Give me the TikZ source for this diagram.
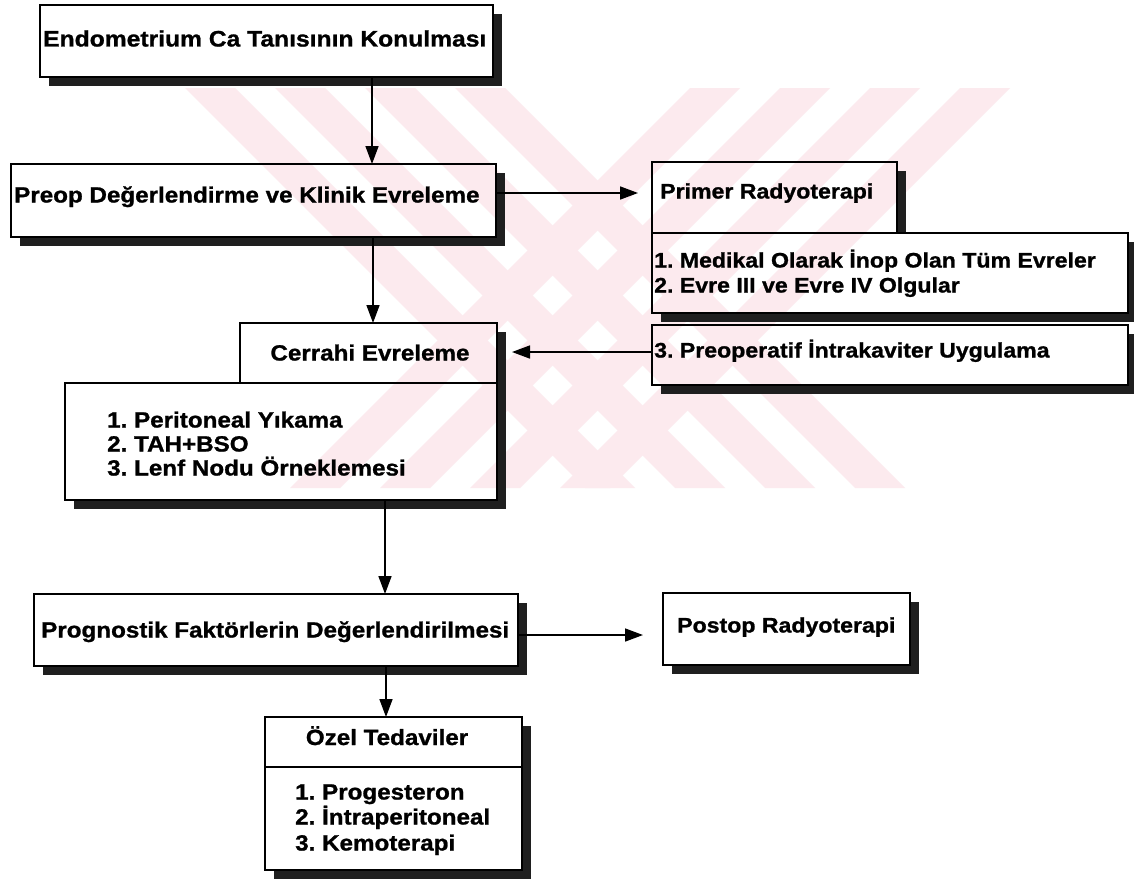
\documentclass[tikz,border=0pt]{standalone}
\usepackage{fontspec}
\setmainfont[FakeStretch=1.1, BoldFeatures={FakeBold=1.1}]{Liberation Sans}
\usetikzlibrary{arrows.meta}
\definecolor{wm}{RGB}{252,234,238}
\newcommand\myft{\fontsize{22}{24.5}\selectfont\bfseries\frenchspacing}
\newcommand\myfts{\fontsize{21}{24.5}\selectfont\bfseries\frenchspacing}
\newcommand\shL[4]{\fill[shd] (#3,{#2+9}) rectangle ({#3+9},{#4+9}); \fill[shd] ({#1+9},#4) rectangle ({#3+9},{#4+9});}
\newcommand\shR[3]{\fill[shd] (#1,{#2+9}) rectangle ({#1+9},#3);}
\newcommand\bxnode[5]{%
  \pgfmathsetmacro\myBW{#4-#2}\pgfmathsetmacro\myBH{#5-#3}%
  \node[bx, minimum width=\myBW pt, minimum height=\myBH pt, anchor=north west] (#1) at (#2,#3) {};}
\begin{document}
\begin{tikzpicture}[x=1pt,y=-1pt,
  bx/.style={draw, line width=1.5pt, inner sep=0pt, outer sep=0pt, rectangle},
  shd/.style={fill=black!88},
  txt/.style={inner sep=0pt, anchor=base west, font=\myft},
  txts/.style={inner sep=0pt, anchor=base west, font=\myfts},
  txtc/.style={inner sep=0pt, anchor=base, font=\myft},
  arr/.style={line width=1.6pt, -{Triangle[length=18pt,width=13pt]}}]
\useasboundingbox (0,0) rectangle (1134,883);
\fill[white] (0,0) rectangle (1134,883);
% watermark
\foreach \s in {185,275,365,455} \fill[wm] (\s,88) -- ({\s+50},88) -- ({\s+450},488) -- ({\s+400},488) -- cycle;
\foreach \s in {690,780,870,960} \fill[wm] (\s,88) -- ({\s+50},88) -- ({\s-350},488) -- ({\s-400},488) -- cycle;
% shadows
\shL{40}{5}{493}{77}
\shL{11}{164}{496}{237}
\shR{897}{162}{233}
\shL{652}{233}{1128}{313}
\shL{652}{325}{1128}{385}
\shR{497}{323}{500}
\fill[shd] (74,500) rectangle (506,509);
\shL{34}{594}{518}{666}
\shL{663}{593}{910}{665}
\shR{522}{717}{870}
\fill[shd] (274,870) rectangle (531,879);
% boxes
\bxnode{b1}{40}{5}{493}{77}
\bxnode{b2}{11}{164}{496}{237}
\bxnode{pr}{652}{162}{897}{233}
\bxnode{md}{652}{233}{1128}{313}
\bxnode{po}{652}{325}{1128}{385}
\bxnode{ce}{240}{323}{497}{383}
\bxnode{cl}{65}{383}{497}{500}
\bxnode{pg}{34}{594}{518}{666}
\bxnode{ps}{663}{593}{910}{665}
\bxnode{oz}{265}{717}{522}{767}
\bxnode{ol}{265}{767}{522}{870}
% texts
\node[txt, font=\fontsize{22.4}{24.5}\selectfont\bfseries\frenchspacing] (t1) at (43,46.5) {Endometrium Ca Tanısının Konulması};
\node[txt] (t2) at (14,202.5) {Preop Değerlendirme ve Klinik Evreleme};
\node[txts] (t3) at (660,198.5) {Primer Radyoterapi};
\node[txts] (t4) at (654,267.5) {1. Medikal Olarak İnop Olan Tüm Evreler};
\node[txts] (t5) at (654,292.5) {2. Evre III ve Evre IV Olgular};
\node[txts] (t6) at (654,357.5) {3. Preoperatif İntrakaviter Uygulama};
\node[txtc] (t7) at (370,360.5) {Cerrahi Evreleme};
\node[txt] (t8) at (107,427.5) {1. Peritoneal Yıkama};
\node[txt] (t9) at (107,451.5) {2. TAH+BSO};
\node[txt] (t10) at (107,475.5) {3. Lenf Nodu Örneklemesi};
\node[txt] (t11) at (41,637.5) {Prognostik Faktörlerin Değerlendirilmesi};
\node[txts] (t12) at (677,632.5) {Postop Radyoterapi};
\node[txtc] (t13) at (387,745) {Özel Tedaviler};
\node[txt] (t14) at (295,799.5) {1. Progesteron};
\node[txt] (t15) at (295,824.5) {2. İntraperitoneal};
\node[txt] (t16) at (295,850.5) {3. Kemoterapi};
% connectors
\coordinate (cA) at (372,0);
\coordinate (cB) at (0,193);
\coordinate (cC) at (373,0);
\coordinate (cD) at (0,352);
\coordinate (cE) at (385,0);
\coordinate (cF) at (0,635);
\coordinate (cG) at (386,0);
\draw[arr] (b1.south -| cA) -- (b2.north -| cA);
\draw[arr, shorten >=14pt] (b2.east |- cB) -- (pr.west |- cB);
\draw[arr] (b2.south -| cC) -- (ce.north -| cC);
\draw[arr, shorten >=15pt] (po.west |- cD) -- (ce.east |- cD);
\draw[arr] (cl.south -| cE) -- (pg.north -| cE);
\draw[arr, shorten >=20pt] (pg.east |- cF) -- (ps.west |- cF);
\draw[arr] (pg.south -| cG) -- (oz.north -| cG);
\end{tikzpicture}
\end{document}
